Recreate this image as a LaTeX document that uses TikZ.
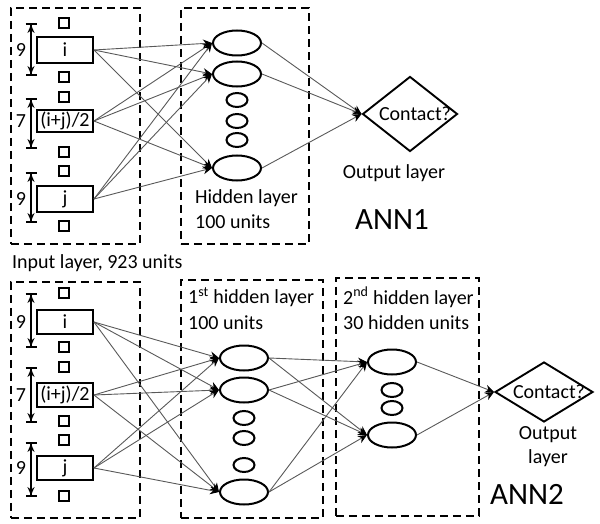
\documentclass[tikz,border=0pt]{standalone}
\usepackage{fontspec}
\setmainfont{Carlito}
\usetikzlibrary{shapes.geometric,arrows.meta}
\begin{document}
\begin{tikzpicture}[x=1pt,y=-1pt,
  font=\fontsize{20}{23}\selectfont,
  dbox/.style={draw,dash pattern=on 8pt off 5pt,line width=1.9pt},
  sq/.style={draw,line width=1.5pt,minimum width=10pt,minimum height=10pt,inner sep=0pt},
  inbox/.style={draw,line width=1.9pt,minimum width=56pt,minimum height=24pt,inner sep=0pt},
  bigell/.style={draw,ellipse,line width=2pt,minimum width=48pt,minimum height=25pt,inner sep=0pt},
  smell/.style={draw,ellipse,line width=2pt,minimum width=21pt,minimum height=14pt,inner sep=0pt},
  diam/.style={draw,diamond,line width=1.9pt,inner sep=0pt},
  conn/.style={draw=black!65,line width=0.9pt,-{Stealth[length=9pt,width=8pt,black]}},
  dim/.style={line width=1.9pt,{Bar[width=11pt]Stealth[length=8pt,width=7pt]}-{Stealth[length=8pt,width=7pt]Bar[width=11pt]}},
  txt/.style={inner sep=0pt,anchor=west}
]
\useasboundingbox (0,0) rectangle (600,524);
% ================= ANN1 =================
\node[dbox,minimum width=129pt,minimum height=236pt,anchor=north west] (inA) at (10,7) {};
\node[dbox,minimum width=128pt,minimum height=236pt,anchor=north west] (hidA) at (180,7) {};
% input squares
\node[sq] (sA1) at (64,23) {};
\node[sq] (sA2) at (64,77) {};
\node[sq] (sA3) at (64,97) {};
\node[sq] (sA4) at (64,152) {};
\node[sq] (sA5) at (64,171) {};
\node[sq] (sA6) at (64,226) {};
% input boxes
\node[inbox,minimum height=26pt] (iA) at (65,50) {i};
\node[inbox,minimum height=22pt] (mA) at (65,121) {(i+j)/2};
\node[inbox,minimum height=26pt] (jA) at (65,199) {j};
% dimension arrows
\coordinate (dA1t) at (31,23); \coordinate (dA1b) at (31,76);
\coordinate (dA2t) at (31,98); \coordinate (dA2b) at (31,149);
\coordinate (dA3t) at (31,172); \coordinate (dA3b) at (31,223);
\draw[dim] (dA1t) -- (dA1b);
\draw[dim] (dA2t) -- (dA2b);
\draw[dim] (dA3t) -- (dA3b);
\node (nA1) at (21,50) {9};
\node (nA2) at (21,121) {7};
\node (nA3) at (21,199) {9};
% hidden
\node[bigell] (hA1) at (237,43) {};
\node[bigell] (hA2) at (237,74) {};
\node[smell] (hA3) at (237,100) {};
\node[smell] (hA4) at (237,121) {};
\node[smell] (hA5) at (237,140) {};
\node[bigell] (hA6) at (237,168) {};
\node[txt] (tA1) at (195,198) {Hidden layer};
\node[txt] (tA2) at (195,222) {100 units};
% output
\node[diam,minimum width=95pt,minimum height=75pt] (oA) at (410,114) {};
\node[inner sep=0pt] (cA) at (415,114) {Contact?};
\node[inner sep=0pt] (olA) at (394,173) {Output layer};
\node[inner sep=0pt,font=\fontsize{31}{35}\selectfont] (annA) at (392,220) {ANN1};
\node[txt] (inlab) at (12,263) {Input layer, 923 units};
% connectors
\foreach \s in {iA,mA,jA}{
  \foreach \t in {hA1,hA2,hA6}{
    \draw[conn] (\s.east) -- (\t.west);
  }
}
\foreach \s in {hA1,hA2,hA6}{
  \draw[conn] (\s.east) -- (oA.west);
}
% ================= ANN2 =================
\node[dbox,minimum width=129pt,minimum height=236pt,anchor=north west] (inB) at (10,281) {};
\node[dbox,minimum width=142pt,minimum height=238pt,anchor=north west] (hidB) at (180,279) {};
\node[dbox,minimum width=143pt,minimum height=238pt,anchor=north west] (hidC) at (335,277) {};
\node[sq] (sB1) at (64,293) {};
\node[sq] (sB2) at (64,347) {};
\node[sq] (sB3) at (64,367) {};
\node[sq] (sB4) at (64,421) {};
\node[sq] (sB5) at (64,440) {};
\node[sq] (sB6) at (64,496) {};
\node[inbox] (iB) at (65,322) {i};
\node[inbox] (mB) at (65,395) {(i+j)/2};
\node[inbox] (jB) at (65,468) {j};
\coordinate (dB1t) at (31,293); \coordinate (dB1b) at (31,348);
\coordinate (dB2t) at (31,367); \coordinate (dB2b) at (31,423);
\coordinate (dB3t) at (31,442); \coordinate (dB3b) at (31,497);
\draw[dim] (dB1t) -- (dB1b);
\draw[dim] (dB2t) -- (dB2b);
\draw[dim] (dB3t) -- (dB3b);
\node (nB1) at (21,322) {9};
\node (nB2) at (21,395) {7};
\node (nB3) at (21,468) {9};
% hidden 1
\node[bigell] (hB1) at (244,358) {};
\node[bigell] (hB2) at (244,390) {};
\node[smell] (hB3) at (244,418) {};
\node[smell] (hB4) at (244,438) {};
\node[smell] (hB5) at (244,465) {};
\node[bigell] (hB6) at (244,492) {};
\node[txt] (tB1) at (188,297) {1\textsuperscript{st} hidden layer};
\node[txt] (tB2) at (188,323) {100 units};
% hidden 2
\node[bigell] (hC1) at (392,362) {};
\node[smell] (hC2) at (392,390) {};
\node[smell] (hC3) at (392,408) {};
\node[bigell] (hC4) at (392,435) {};
\node[txt] (tC1) at (343,297) {2\textsuperscript{nd} hidden layer};
\node[txt] (tC2) at (343,323) {30 hidden units};
% output
\node[diam,minimum width=98pt,minimum height=60pt] (oB) at (544,392) {};
\node[inner sep=0pt] (cB) at (549,392) {Contact?};
\node[inner sep=0pt] (olB1) at (548,435) {Output};
\node[inner sep=0pt] (olB2) at (548,458) {layer};
\node[inner sep=0pt,font=\fontsize{31}{35}\selectfont] (annB) at (527,494) {ANN2};
% connectors
\foreach \s in {iB,mB,jB}{
  \foreach \t in {hB1,hB2,hB6}{
    \draw[conn] (\s.east) -- (\t.west);
  }
}
\foreach \s in {hB1,hB2,hB6}{
  \foreach \t in {hC1,hC4}{
    \draw[conn] (\s.east) -- (\t.west);
  }
}
\foreach \s in {hC1,hC4}{
  \draw[conn] (\s.east) -- (oB.west);
}
\end{tikzpicture}
\end{document}
